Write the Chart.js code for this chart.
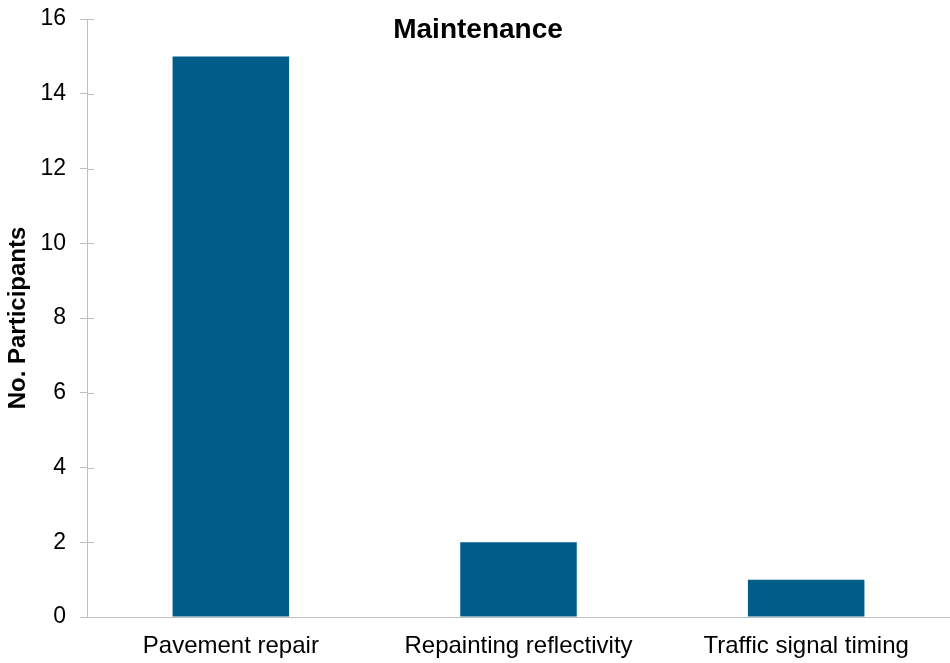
<!DOCTYPE html>
<html>
<head>
<meta charset="utf-8">
<script src="https://cdn.jsdelivr.net/npm/chart.js@4/dist/chart.umd.min.js"></script>
<style>
html, body { margin: 0; padding: 0; background: #ffffff; }
#wrap { width: 950px; height: 663px; }
</style>
</head>
<body>
<div id="wrap"><canvas id="miGrafico" width="950" height="663"></canvas></div>
<script>
let categorias = ['Pavement repair', 'Repainting reflectivity', 'Traffic signal timing'];
let participantes = [15, 2, 1];
let ticksY = [0, 2, 4, 6, 8, 10, 12, 14, 16];

let titulo = 'Maintenance';
let tituloEje = 'No. Participants';

let colorBarra = '#005d89';
let colorEje = '#bfbfbf';

// titulo dibujado encima del area del grafico
const pluginTitulo = {
  id: 'pluginTitulo',
  afterDraw(chart){
    const ctx = chart.ctx;
    ctx.save();
    ctx.font = 'bold 28px "Liberation Sans", Arial, sans-serif';
    ctx.fillStyle = '#000000';
    ctx.textAlign = 'center';
    ctx.textBaseline = 'alphabetic';
    ctx.fillText(titulo, chart.width / 2 + 3, 38);
    ctx.restore();
  }
};

// marcas del eje Y que cruzan la linea (parte interior)
const pluginMarcas = {
  id: 'pluginMarcas',
  afterDatasetsDraw(chart){
    const ctx = chart.ctx;
    const y = chart.scales.y;
    const x0 = chart.chartArea.left;
    ctx.save();
    ctx.strokeStyle = colorEje;
    ctx.lineWidth = 1;
    ctx.beginPath();
    ticksY.forEach(v => {
      if (v === 0) return;
      const py = Math.round(y.getPixelForValue(v)) + 0.5;
      ctx.moveTo(x0, py);
      ctx.lineTo(x0 + 7, py);
    });
    ctx.stroke();
    ctx.restore();
  }
};

let ctx = document.getElementById('miGrafico').getContext('2d');

let grafico = new Chart(ctx, {
  type: 'bar',
  data: {
    labels: categorias,
    datasets: [{
      label: tituloEje,
      data: participantes,
      backgroundColor: colorBarra,
      borderWidth: 0,
      barPercentage: 0.405,
      categoryPercentage: 1
    }]
  },
  options: {
    responsive: false,
    animation: false,
    layout: { padding: { top: 19, right: 0, left: 0, bottom: 0 } },
    plugins: {
      legend: { display: false },
      tooltip: { enabled: false }
    },
    scales: {
      x: {
        grid: { display: false },
        border: { display: true, color: colorEje, width: 1 },
        ticks: {
          color: '#000000',
          padding: 7,
          maxRotation: 0,
          font: { family: '"Liberation Sans", Arial, sans-serif', size: 24 }
        },
        afterFit(scale){
          scale.height = 46;
          scale.paddingLeft = 0;
          scale.paddingRight = 0;
        }
      },
      y: {
        min: 0,
        max: 16,
        afterBuildTicks(scale){ scale.ticks = ticksY.map(v => ({ value: v })); },
        grid: {
          drawOnChartArea: false,
          drawTicks: true,
          tickLength: 7,
          color: colorEje
        },
        border: { display: true, color: colorEje, width: 1 },
        ticks: {
          color: '#000000',
          padding: 14,
          font: { family: '"Liberation Sans", Arial, sans-serif', size: 23 }
        },
        title: {
          display: true,
          text: tituloEje,
          color: '#000000',
          padding: { top: 4, bottom: 0 },
          font: { family: '"Liberation Sans", Arial, sans-serif', size: 24, weight: 'bold' }
        },
        afterFit(scale){
          scale.width = 87;
          scale.paddingTop = 0;
          scale.paddingBottom = 0;
        }
      }
    }
  },
  plugins: [pluginTitulo, pluginMarcas]
});
</script>
</body>
</html>
